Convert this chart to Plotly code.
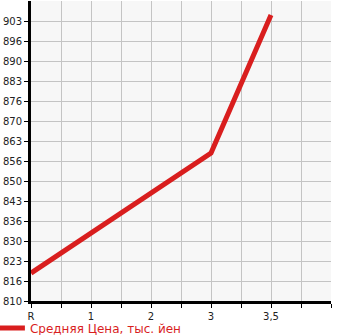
import plotly.graph_objects as go

# Data
x_labels = ["R", "1", "2", "3", "3,5"]
x_pos = [0, 1, 2, 3, 4]
series_x = [0, 3, 4]
series_y = [819.3, 859.3, 905.3]
series_name = "Средняя Цена, тыс. йен"
y_tick_labels = ["810", "816", "823", "830", "836", "843", "850", "856",
                 "863", "870", "876", "883", "890", "896", "903"]
y_min, y_max = 810, 910

y_step = (y_max - y_min) / 15
y_tickvals = [y_min + i * y_step for i in range(len(y_tick_labels))]

x_tickvals = [i * 0.5 for i in range(11)]
x_ticktext = []
for v in x_tickvals:
    if v in x_pos and float(v).is_integer():
        x_ticktext.append(x_labels[x_pos.index(int(v))])
    else:
        x_ticktext.append("")

red = "#d91e1e"

fig = go.Figure()
fig.add_trace(go.Scatter(
    x=series_x, y=series_y, mode="lines", name=series_name,
    line=dict(color=red, width=5),
    showlegend=True,
))

fig.update_layout(
    width=345, height=335,
    margin=dict(l=31, r=14, t=1, b=34, autoexpand=False),
    paper_bgcolor="white",
    plot_bgcolor="#f7f7f7",
    font=dict(family="DejaVu Sans", size=10, color="#222"),
    showlegend=True,
    legend=dict(
        orientation="h", x=-0.137, xanchor="left",
        y=-0.09, yanchor="middle",
        font=dict(size=12, color=red, family="DejaVu Sans"),
        bgcolor="rgba(0,0,0,0)", itemwidth=30, tracegroupgap=0,
    ),
    xaxis=dict(
        range=[0, 5], tickmode="array", tickvals=x_tickvals, ticktext=x_ticktext,
        showgrid=True, gridcolor="#c4c4c4", gridwidth=1,
        showline=True, linecolor="black", linewidth=3,
        ticks="outside", ticklen=4, tickcolor="black", tickwidth=1,
        zeroline=False, fixedrange=True, automargin=False,
    ),
    yaxis=dict(
        range=[y_min, y_max], tickmode="array", tickvals=y_tickvals,
        ticktext=y_tick_labels,
        showgrid=True, gridcolor="#c4c4c4", gridwidth=1,
        showline=True, linecolor="black", linewidth=3,
        ticks="outside", ticklen=4, tickcolor="black", tickwidth=1,
        zeroline=False, fixedrange=True, automargin=False,
    ),
)

fig.write_html("out.html")
